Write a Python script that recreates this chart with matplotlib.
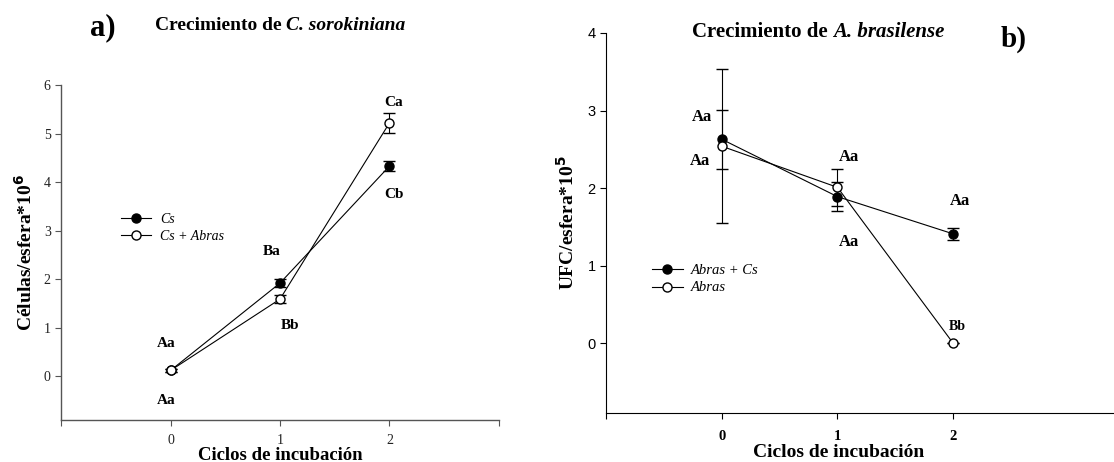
import matplotlib
matplotlib.use("Agg")
import matplotlib.pyplot as plt
from matplotlib.lines import Line2D

# Datos panel a: crecimiento de C. sorokiniana (celulas/esfera * 10^6)
ciclos = [0, 1, 2]
cs_media = [0.12, 1.92, 4.33]
cs_error = [0.03, 0.08, 0.10]
cs_abras_media = [0.12, 1.59, 5.22]
cs_abras_error = [0.03, 0.08, 0.20]
letras_a = ["Aa", "Aa", "Ba", "Bb", "Ca", "Cb"]
letras_a_x = [-0.04, -0.04, 0.92, 1.09, 2.04, 2.04]
letras_a_y = [0.68, -0.50, 2.58, 1.04, 5.64, 3.74]

# Datos panel b: crecimiento de A. brasilense (UFC/esfera * 10^5)
abras_cs_media = [2.63, 1.89, 1.41]
abras_cs_error = [0.38, 0.19, 0.08]
abras_media = [2.54, 2.01, 0.0]
abras_error = [0.99, 0.24, 0.0]
letras_b = ["Aa", "Aa", "Aa", "Aa", "Aa", "Bb"]
letras_b_x = [-0.17, -0.19, 1.10, 1.10, 2.06, 2.04]
letras_b_y = [2.92, 2.35, 2.40, 1.30, 1.83, 0.22]

serif = "Liberation Serif"
sans = "Liberation Sans"

fig = plt.figure(figsize=(11.14, 4.62), dpi=100)
renderer = fig.canvas.get_renderer()


def titulo(xc, yc, normal, cursiva, size):
    # texto en negrita + parte en cursiva, centrado en xc (pixeles de figura)
    t1 = fig.text(0, yc, normal, fontsize=size, fontweight="bold", family=serif,
                  ha="left", va="center")
    t2 = fig.text(0, yc, cursiva, fontsize=size, fontweight="bold",
                  fontstyle="italic", family=serif, ha="left", va="center")
    w1 = t1.get_window_extent(renderer).width
    w2 = t2.get_window_extent(renderer).width
    x0 = xc - (w1 + w2) / 2
    t1.set_x(x0 / fig.bbox.width)
    t2.set_x((x0 + w1) / fig.bbox.width)


def leyenda(ax, etiquetas, anchor, size):
    handles = [Line2D([], [], color="black", lw=0.8, marker="o", ms=6.5,
                      mfc=c, mec="black") for c in ("black", "white")]
    leg = ax.legend(handles, etiquetas, loc="upper left", bbox_to_anchor=anchor,
                    frameon=False, handlelength=2.2, handletextpad=0.6,
                    labelspacing=0.3, borderaxespad=0)
    for t in leg.get_texts():
        t.set_fontstyle("italic")
        t.set_fontfamily(serif)
        t.set_fontsize(size)


# ---------- Panel a ----------
gris = "#555555"
ax1 = fig.add_axes([0.0548, 0.0909, 0.3931, 0.7251])
ax1.errorbar(ciclos, cs_media, yerr=cs_error, color="black", lw=0.8,
             marker="o", ms=6.5, mfc="black", mec="black", capsize=4,
             elinewidth=0.8, zorder=3)
ax1.errorbar(ciclos, cs_abras_media, yerr=cs_abras_error, color="black", lw=0.8,
             marker="o", ms=6.5, mfc="white", mec="black", capsize=4,
             elinewidth=0.8, zorder=4)
ax1.set_xlim(-1, 3)
ax1.set_ylim(-0.9, 6)
ax1.spines["top"].set_visible(False)
ax1.spines["right"].set_visible(False)
for s in ("left", "bottom"):
    ax1.spines[s].set_color(gris)
    ax1.spines[s].set_linewidth(1.0)
ax1.set_xticks([-1, 0, 1, 2, 3])
ax1.set_xticklabels(["", "0", "1", "2", ""])
ax1.set_yticks(range(0, 7))
ax1.tick_params(colors=gris, labelcolor="#222222", length=4, width=0.8)
ax1.tick_params(axis="x", pad=6)
for t in ax1.get_xticklabels() + ax1.get_yticklabels():
    t.set_fontfamily(serif)
    t.set_fontsize(10)
for lab, x, y in zip(letras_a, letras_a_x, letras_a_y):
    ax1.text(x, y, lab, ha="center", va="center", fontsize=11,
             fontweight="bold", family=serif)
ax1.set_xlabel("Ciclos de incubación", fontsize=13.5, fontweight="bold",
               family=serif, va="center")
ax1.xaxis.set_label_coords(0.5, -0.106)
ax1.set_ylabel(r"Células/esfera*10$^{\mathbf{6}}$", fontsize=14,
               fontweight="bold", family=serif, va="center")
ax1.yaxis.set_label_coords(-0.082, 0.5)
leyenda(ax1, ["Cs", "Cs + Abras"], (0.124, 0.636), 10)

fig.text(0.081, 0.94, "a)", fontsize=22, fontweight="bold", family=serif,
         ha="left", va="center")
titulo(280, 0.945, "Crecimiento de ", "C. sorokiniana", 14)

# ---------- Panel b ----------
ax2 = fig.add_axes([0.544, 0.106, 0.456, 0.8226])
ax2.errorbar(ciclos, abras_cs_media, yerr=abras_cs_error, color="black", lw=0.8,
             marker="o", ms=6.5, mfc="black", mec="black", capsize=4,
             elinewidth=0.8, zorder=3)
ax2.errorbar(ciclos, abras_media, yerr=abras_error, color="black", lw=0.8,
             marker="o", ms=6.5, mfc="white", mec="black", capsize=4,
             elinewidth=0.8, zorder=4)
ax2.set_xlim(-1, 3.39)
ax2.set_ylim(-0.9, 4)
ax2.spines["top"].set_visible(False)
ax2.spines["right"].set_visible(False)
ax2.set_xticks([-1, 0, 1, 2])
ax2.set_xticklabels(["", "0", "1", "2"])
ax2.set_yticks(range(0, 5))
ax2.tick_params(length=4, width=0.8)
ax2.tick_params(axis="x", pad=8)
for t in ax2.get_xticklabels():
    t.set_fontfamily(serif)
    t.set_fontweight("bold")
    t.set_fontsize(10.5)
for t in ax2.get_yticklabels():
    t.set_fontfamily(sans)
    t.set_fontsize(10.5)
for lab, x, y in zip(letras_b, letras_b_x, letras_b_y):
    ax2.text(x, y, lab, ha="center", va="center",
             fontsize=10 if lab == "Bb" else 12,
             fontweight="bold", family=serif)
ax2.set_xlabel("Ciclos de incubación", fontsize=14, fontweight="bold",
               family=serif, va="center")
ax2.xaxis.set_label_coords(0.457, -0.103)
ax2.set_ylabel(r"UFC/esfera*10$^{\mathbf{5}}$", fontsize=14,
               fontweight="bold", family=serif, va="center")
ax2.yaxis.set_label_coords(-0.077, 0.5)
leyenda(ax2, ["Abras + Cs", "Abras"], (0.08, 0.406), 10.5)

titulo(818, 0.93, "Crecimiento de ", "A. brasilense", 15)
fig.text(0.898, 0.915, "b)", fontsize=21, fontweight="bold", family=serif,
         ha="left", va="center")

fig.savefig("out.png", dpi=100)
